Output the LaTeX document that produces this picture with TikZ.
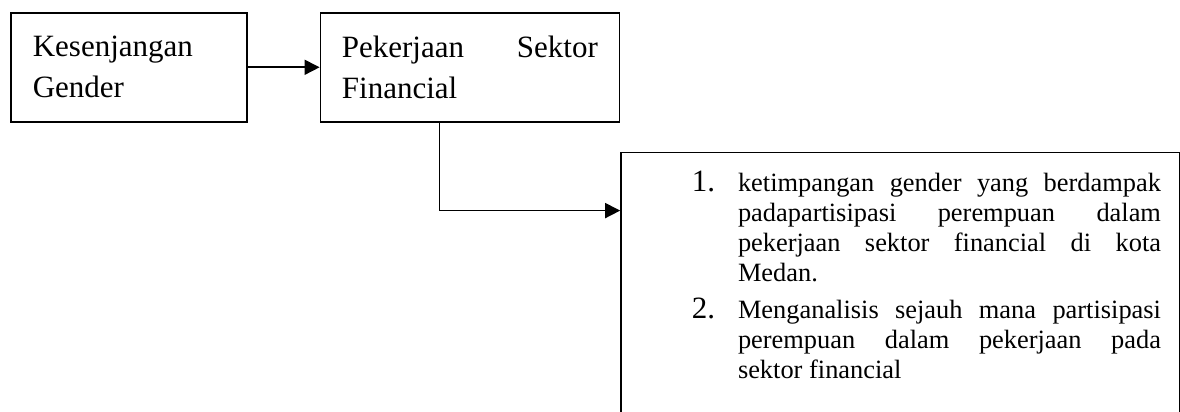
\documentclass[tikz,border=0pt]{standalone}
\usepackage{fontspec}
\setmainfont{Liberation Serif}
\usetikzlibrary{positioning,arrows.meta,calc}

\newcommand{\goalnum}[1]{\noindent\llap{\fontsize{15.5}{15}\selectfont #1\hspace{11.4pt}}}
\newcommand{\goalfont}{\fontsize{13.2}{15}\selectfont}

\begin{document}
\begin{tikzpicture}[line width=0.8pt, >={Triangle[length=7.5pt,width=7.5pt]},
    stage/.style={draw, rectangle, minimum height=54.5pt, inner ysep=0pt, align=justify,
      font=\fontsize{15.5}{20.5}\selectfont,
      execute at begin node={\tolerance=10000\hyphenpenalty=10000}},
    goalbox/.style={draw, rectangle, minimum width=279.5pt, minimum height=140pt, inner sep=0pt},
    goaltext/.style={text width=211.5pt, inner sep=0pt, align=justify,
      execute at begin node={\goalfont\tolerance=10000\hyphenpenalty=10000\parindent=0pt}}]
    \useasboundingbox (0,0) rectangle (590pt,206pt);
    \node [stage, text width=96pt, inner xsep=11pt, anchor=north west] (gap) at (5pt,200pt) {Kesenjangan Gender};
    \node [stage, text width=128pt, inner xsep=10.75pt, right=36pt of gap] (work) {Pekerjaan Sektor Financial};
    \node [goalbox, below=14.5pt of work.south east, anchor=north west] (goals) {};
    \node [goaltext, anchor=north west] (goallist) at ($(goals.north west)+(58.5pt,-9.5pt)$) {%
      \goalnum{1.}ketimpangan gender yang berdampak\linebreak
      padapartisipasi perempuan dalam\linebreak
      pekerjaan sektor financial di kota\linebreak
      Medan.\par\vspace{3.5pt}
      \goalnum{2.}Menganalisis sejauh mana partisipasi\linebreak
      perempuan dalam pekerjaan pada\linebreak
      sektor financial\par};
    \coordinate (drop) at ($(work.south west)+(60pt,0)$);
    \coordinate (hit) at ($(goals.north west)+(0,-29.5pt)$);
    \path[->] (gap) edge (work);
    \draw[->] (drop) |- (hit);
\end{tikzpicture}
\end{document}
